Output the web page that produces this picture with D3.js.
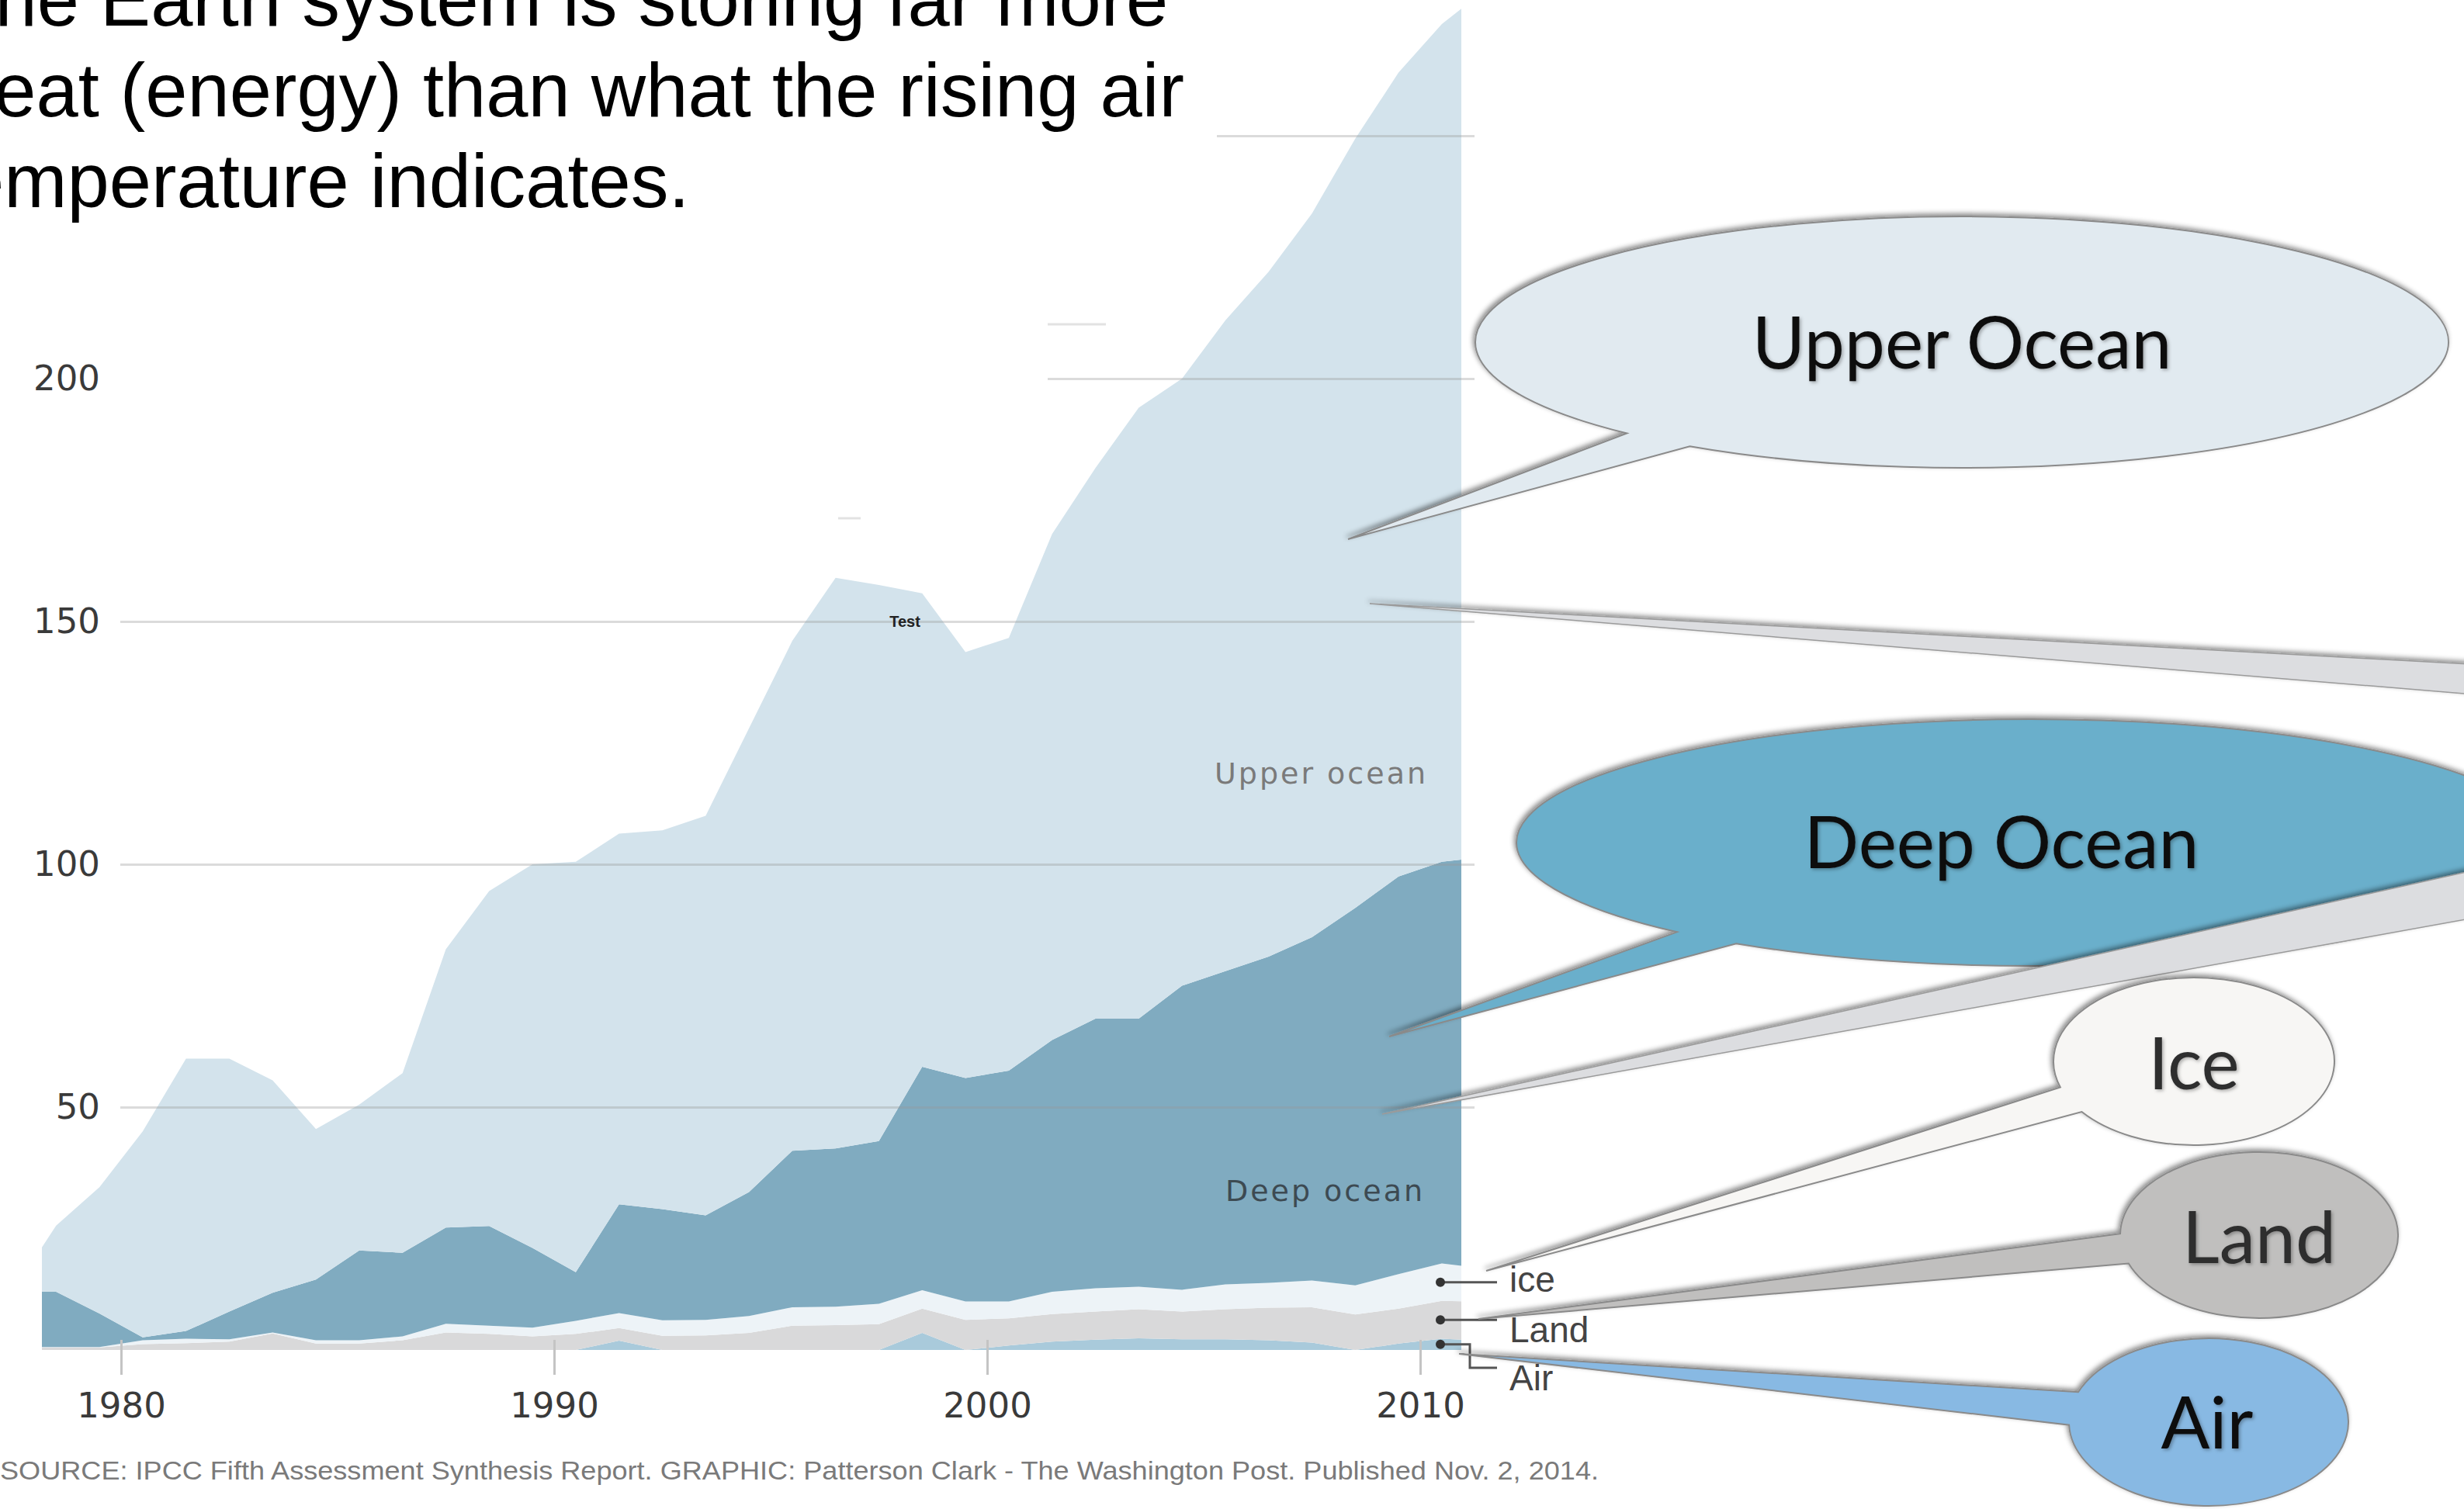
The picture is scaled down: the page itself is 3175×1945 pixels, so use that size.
<!DOCTYPE html>
<html>
<head>
<meta charset="utf-8">
<script src="https://cdn.jsdelivr.net/npm/d3@7"></script>
<style>
  html, body { margin: 0; padding: 0; background: #fff; overflow: hidden; }
  svg { display: block; }
</style>
</head>
<body>
<div id="chart"></div>
<script>
// yearly values (plotted mid-year), stacked bottom -> top
const years = [1977, 1978, 1979, 1980, 1981, 1982, 1983, 1984, 1985, 1986, 1987, 1988,
  1989, 1990, 1991, 1992, 1993, 1994, 1995, 1996, 1997, 1998, 1999, 2000, 2001, 2002,
  2003, 2004, 2005, 2006, 2007, 2008, 2009, 2010, 2011];
const air = [0, 0, 0, 0, 0, 0, 0, 0, 0, 0, 0, 0, 0, 0, 1.9, 0, 0, 0, 0, 0, 0, 3.5, 0,
  0.9, 1.7, 2.1, 2.4, 2.2, 2.2, 2.0, 1.5, 0, 1.3, 2.3, 1.9];
const land = [0.5, 0.5, 0.5, 1.2, 1.4, 1.7, 3.4, 1.3, 1.3, 2.0, 3.6, 3.3, 2.8, 3.3, 2.6,
  2.9, 3.0, 3.5, 5.0, 5.1, 5.3, 5.0, 6.2, 5.6, 5.7, 5.8, 6.0, 5.7, 6.2, 6.7, 7.3, 7.3,
  7.2, 7.8, 8.0];
const ice = [0.1, 0.1, 0.1, 0.8, 0.9, 0.5, 0.2, 0.7, 0.7, 0.8, 1.8, 1.7, 1.8, 2.7, 3.1,
  3.2, 3.2, 3.5, 3.8, 3.8, 4.2, 3.8, 3.8, 3.5, 4.6, 4.8, 4.6, 4.5, 5.1, 5.1, 5.5, 6.0,
  7.1, 7.7, 6.9];
const deepOcean = [11.4, 11.4, 6.9, 0.6, 1.6, 5.7, 8.2, 12.5, 18.5, 17.2, 19.8, 20.5,
  16.4, 10, 22.4, 22.9, 21.5, 25.5, 32.2, 32.6, 33.5, 46, 46, 47.5, 51.8, 55.5, 55.2,
  62.6, 64.5, 67.2, 70.7, 77.7, 81.9, 82.7, 84.7];
const upperOcean = [0, 13.6, 26, 42.4, 56.1, 52.1, 43.7, 31, 30, 37, 57.3, 69, 79, 84.5,
  76.3, 78, 82.3, 95.5, 105, 117.5, 114.5, 97.5, 87.7, 89.1, 104.2, 113.4, 125.8, 125,
  134, 141, 149, 158.4, 165.5, 172.5, 178.5];

const yTicks = [50, 100, 150, 200, 250];
const xTicks = [1980, 1990, 2000, 2010];
const titleLines = ["The Earth system is storing far more",
  "heat (energy) than what the rising air",
  "temperature indicates."];
const sourceText = "SOURCE: IPCC Fifth Assessment Synthesis Report. GRAPHIC: Patterson Clark - The Washington Post. Published Nov. 2, 2014.";

const W = 3175, H = 1945;

const svg = d3.select("#chart").append("svg")
    .attr("width", W)
    .attr("height", H);

const defs = svg.append("defs");
defs.append("clipPath").attr("id", "plot")
  .append("rect").attr("x", 54).attr("y", 0).attr("width", 1883 - 54).attr("height", H);
defs.append("filter").attr("id", "shadow")
    .attr("x", "-20%").attr("y", "-20%").attr("width", "140%").attr("height", "140%")
  .append("feDropShadow")
    .attr("dx", -2).attr("dy", -3).attr("stdDeviation", 3)
    .attr("flood-color", "#000").attr("flood-opacity", 0.45);
defs.append("filter").attr("id", "tshadow")
  .append("feDropShadow")
    .attr("dx", 2).attr("dy", 2).attr("stdDeviation", 2)
    .attr("flood-color", "#000").attr("flood-opacity", 0.3);

svg.append("rect").attr("width", W).attr("height", H).attr("fill", "#fff");

const x = d3.scaleLinear().domain([1980, 2010]).range([156, 1830]);
const y = d3.scaleLinear().domain([0, 250]).range([1740, 175]);

const keys = ["air", "land", "ice", "deep", "upper"];
const colors = {air: "#a9cadb", land: "#d9d9da", ice: "#edf3f7", deep: "#80abc0", upper: "#d3e3ec"};

const table = years.map((yr, i) => ({
  year: yr, air: air[i], land: land[i], ice: ice[i], deep: deepOcean[i], upper: upperOcean[i]
}));
const series = d3.stack().keys(keys)(table);

const area = d3.area()
    .x(d => x(d.data.year + 0.5))
    .y0(d => y(d[0]))
    .y1(d => y(d[1]));

svg.append("g")
    .attr("clip-path", "url(#plot)")
  .selectAll("path")
  .data(series)
  .join("path")
    .attr("d", area)
    .attr("fill", d => colors[d.key]);

// gridlines + y labels
const yAxis = svg.append("g")
    .attr("transform", "translate(155,0)")
    .call(d3.axisLeft(y).tickValues(yTicks).tickFormat(d3.format("d"))
      .tickSize(-(1900 - 155)).tickPadding(26));
yAxis.select(".domain").remove();
yAxis.selectAll("line")
    .attr("stroke", "#999").attr("stroke-opacity", 0.35).attr("stroke-width", 3);
yAxis.selectAll("text")
    .attr("font-family", "DejaVu Sans").attr("font-size", 45).attr("fill", "#3a3a3a");

// white panel behind the heading hides part of the grid
svg.append("rect").attr("x", 0).attr("y", 0).attr("width", 1568).attr("height", 300).attr("fill", "#fff");
svg.append("rect").attr("x", 140).attr("y", 300).attr("width", 1350 - 140).attr("height", 220).attr("fill", "#fff");
svg.append("line").attr("x1", 1350).attr("x2", 1425).attr("y1", 418).attr("y2", 418)
    .attr("stroke", "#e2e2e2").attr("stroke-width", 3);
svg.append("line").attr("x1", 1080).attr("x2", 1109).attr("y1", 668).attr("y2", 668)
    .attr("stroke", "#e2e2e2").attr("stroke-width", 3);

// x axis
const xAxis = svg.append("g")
    .attr("transform", `translate(0,${y(0)})`)
    .call(d3.axisBottom(x).tickValues(xTicks).tickFormat(d3.format("d")).tickSize(32));
xAxis.select(".domain").remove();
xAxis.selectAll("line")
    .attr("y1", -13).attr("stroke", "#c4c4c4").attr("stroke-width", 3);
xAxis.selectAll("text")
    .attr("y", 55)
    .attr("font-family", "DejaVu Sans").attr("font-size", 45).attr("fill", "#3a3a3a");

// in-chart labels
svg.append("text").attr("x", 1840).attr("y", 1010)
    .attr("text-anchor", "end").attr("font-family", "DejaVu Sans").attr("font-size", 38)
    .attr("letter-spacing", 3).attr("fill", "#7a7a7a").text("Upper ocean");
svg.append("text").attr("x", 1836).attr("y", 1548)
    .attr("text-anchor", "end").attr("font-family", "DejaVu Sans").attr("font-size", 38)
    .attr("letter-spacing", 3).attr("fill", "#3d4a52").text("Deep ocean");
svg.append("text").attr("x", 1166).attr("y", 808)
    .attr("text-anchor", "middle").attr("font-family", "Liberation Sans").attr("font-weight", "bold")
    .attr("font-size", 20).attr("fill", "#222").text("Test");

// small layer labels with leaders, anchored at the 2010 layer midpoints
const iLast = years.indexOf(2010);
const small = [
  {name: "ice", mid: (series[2][iLast][0] + series[2][iLast][1]) / 2, ty: 1665, bend: null},
  {name: "Land", mid: (series[1][iLast][0] + series[1][iLast][1]) / 2, ty: 1730, bend: null},
  {name: "Air", mid: (series[0][iLast][0] + series[0][iLast][1]) / 2, ty: 1792, bend: 1763}
];
const lead = svg.append("g");
small.forEach(s => {
  const yy = y(s.mid);
  const pts = s.bend == null
    ? [[1856, yy], [1929, yy]]
    : [[1856, yy], [1894, yy], [1894, s.bend], [1929, s.bend]];
  lead.append("path").attr("d", d3.line()(pts))
      .attr("fill", "none").attr("stroke", "#555").attr("stroke-width", 3);
  lead.append("circle").attr("cx", 1856).attr("cy", yy).attr("r", 6).attr("fill", "#333");
  lead.append("text").attr("x", 1945).attr("y", s.ty)
      .attr("font-family", "Liberation Sans").attr("font-size", 46).attr("fill", "#444")
      .text(s.name);
});

// heading (the panel is cropped on its left side)
const titleX = [-66, -62, -76];
svg.append("g").selectAll("text")
  .data(titleLines)
  .join("text")
    .attr("x", (d, i) => titleX[i])
    .attr("y", (d, i) => 33 + i * 117)
    .attr("font-family", "Liberation Sans, Arial, Helvetica")
    .attr("font-size", 97.5)
    .attr("fill", "#000")
    .text(d => d);

// source line
svg.append("text").attr("x", 0).attr("y", 1907)
    .attr("font-family", "Liberation Sans Narrow, Liberation Sans")
    .attr("font-size", 33).attr("fill", "#7a7a7a")
    .attr("textLength", 2060).attr("lengthAdjust", "spacingAndGlyphs")
    .text(sourceText);

// callout bubbles
const bubbles = [
  {label: "Upper Ocean", cx: 2528, cy: 441, rx: 627, ry: 162, t1: 124, t2: 133.5, tip: [1737, 695], fill: "#e1eaf0", tx: 2528, ty: 475, tc: "#111"},
  {label: "Deep Ocean", cx: 2618, cy: 1086, rx: 664, ry: 159, t1: 125, t2: 133.5, tip: [1790, 1336], fill: "#6aafcb", tx: 2579, ty: 1119, tc: "#111"},
  {label: "Ice", cx: 2827, cy: 1368, rx: 181, ry: 108, t1: 143, t2: 162, tip: [1915, 1638], fill: "#f7f6f4", tx: 2827, ty: 1404, tc: "#2e2e2e"},
  {label: "Land", cx: 2911, cy: 1592, rx: 179, ry: 107, t1: 160, t2: 181, tip: [1905, 1700], fill: "#c0bfbe", tx: 2911, ty: 1628, tc: "#2e2e2e"},
  {label: "Air", cx: 2846, cy: 1833, rx: 180, ry: 108, t1: 178, t2: 201, tip: [1880, 1745], fill: "#88b9e3", tx: 2844, ty: 1867, tc: "#111"}
];
const wedges = [
  {after: 0, pts: [[1765, 778], [3200, 857], [3200, 896]]},
  {after: 1, pts: [[1781, 1436], [3200, 1119], [3200, 1181]]}
];

const bubblePath = b => {
  const p = t => [b.cx + b.rx * Math.cos(t * Math.PI / 180), b.cy + b.ry * Math.sin(t * Math.PI / 180)];
  const [x1, y1] = p(b.t1), [x2, y2] = p(b.t2);
  return `M${x2},${y2} A${b.rx},${b.ry} 0 1 1 ${x1},${y1} L${b.tip[0]},${b.tip[1]} Z`;
};

const callouts = svg.append("g");
bubbles.forEach((b, i) => {
  const g = callouts.append("g");
  g.append("path").attr("d", bubblePath(b))
      .attr("fill", b.fill).attr("stroke", "#8a8a8a").attr("stroke-width", 2)
      .attr("filter", "url(#shadow)");
  g.append("text").attr("x", b.tx).attr("y", b.ty)
      .attr("text-anchor", "middle").attr("font-family", "Lato, Noto Sans")
      .attr("font-size", 93).attr("fill", b.tc).attr("filter", "url(#tshadow)")
      .text(b.label);
  wedges.filter(w => w.after === i).forEach(w => {
    callouts.append("path").attr("d", d3.line()(w.pts) + "Z")
        .attr("fill", "#dcdde0").attr("stroke", "#9a9a9a").attr("stroke-width", 1.5)
        .attr("filter", "url(#shadow)");
  });
});
</script>
</body>
</html>
